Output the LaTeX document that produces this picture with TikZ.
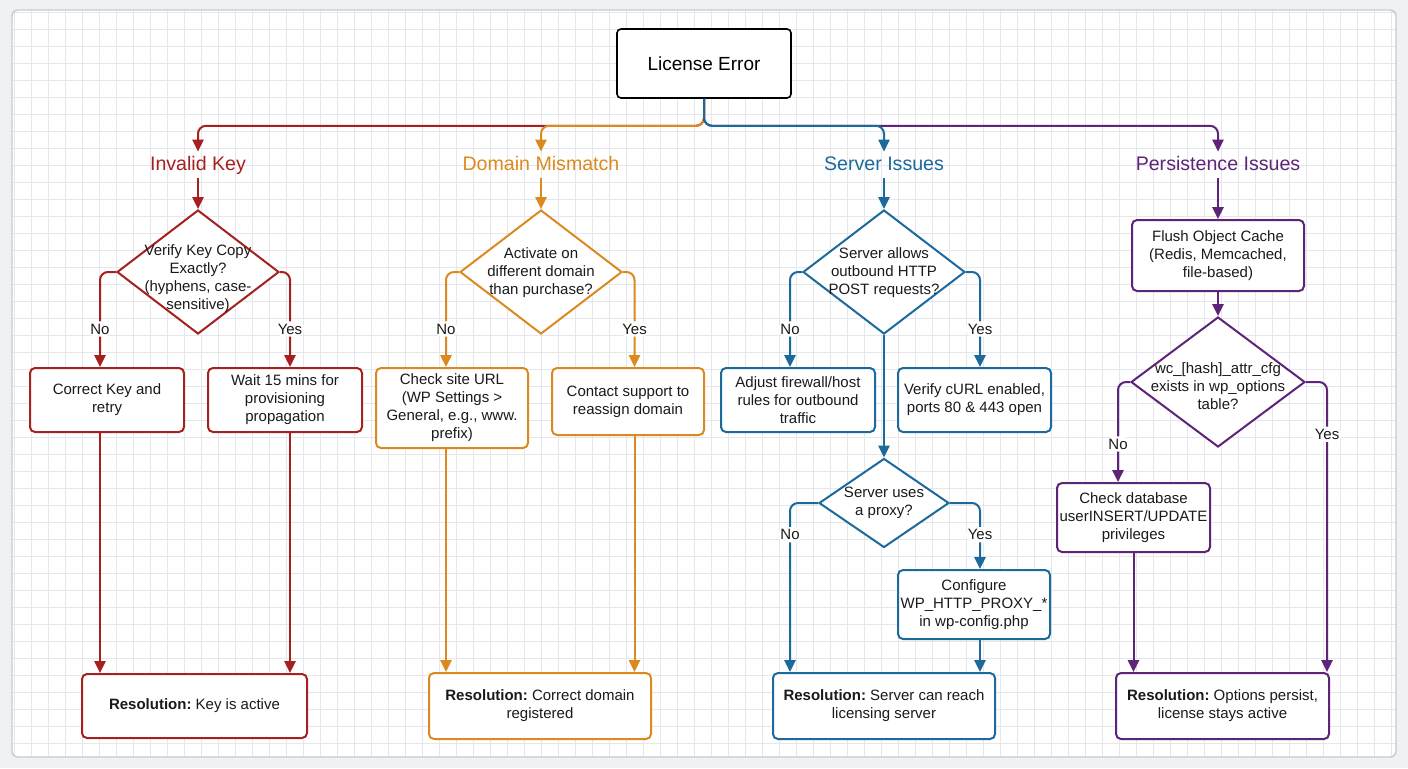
\documentclass[tikz,border=0pt]{standalone}
\usepackage{fontspec}
\setmainfont{Liberation Sans}
\usetikzlibrary{shapes.geometric, arrows.meta, positioning}
\definecolor{rojo}{HTML}{A6201F}
\definecolor{naranja}{HTML}{DC8A1F}
\definecolor{azul}{HTML}{1C699C}
\definecolor{morado}{HTML}{5D2478}
\definecolor{tinta}{HTML}{1A1A1A}
\definecolor{fondo}{HTML}{EEF2F5}
\definecolor{rejilla}{HTML}{E5E7EA}
\definecolor{marco}{HTML}{C6CBD1}
\tikzset{
  caja/.style={rectangle, rounded corners=2.5pt, line width=1pt, fill=white, text=tinta,
               inner sep=0pt, align=center, font=\fontsize{7.5}{9}\selectfont},
  inicio/.style={rectangle, rounded corners=2pt, line width=0.8pt, draw=black, fill=white,
                 minimum width=87pt, minimum height=34.5pt, font=\fontsize{9.5}{11}\selectfont},
  rombo/.style={diamond, line width=1pt, fill=white, inner sep=0pt},
  textorombo/.style={align=center, text=tinta, inner sep=0pt, font=\fontsize{7.5}{9}\selectfont},
  categoria/.style={font=\fontsize{9.8}{11}\selectfont, inner sep=0pt, minimum height=13pt,
                    text height=7.2pt, text depth=2pt},
  rotulo/.style={font=\fontsize{7.5}{9}\selectfont, text=tinta, fill=white, inner sep=1.2pt},
  flecha/.style={line width=1pt, rounded corners=4pt, -{Triangle[length=6pt,width=5.6pt]}}
}

\begin{document}
\begin{tikzpicture}[x=0.5pt,y=-0.5pt]
  % fondo, panel y cuadricula
  \fill[fondo] (0,0) rectangle (1408,768);
  \useasboundingbox (0,0) rectangle (1408,768);
  \begin{scope}
    \clip[rounded corners=3pt] (12,10) rectangle (1396,757);
    \fill[white] (12,10) rectangle (1396,757);
    \foreach \i in {0,...,81} \draw[rejilla, line width=0.5pt] (14.7+17*\i,10) -- (14.7+17*\i,757);
    \foreach \j in {0,...,44} \draw[rejilla, line width=0.5pt] (12,12.3+17*\j) -- (1396,12.3+17*\j);
  \end{scope}
  \draw[marco, line width=0.7pt, rounded corners=3pt] (12,10) rectangle (1396,757);

  % nodos
  \node (err) [inicio] at (704,63.5) {License Error};
  \node (catr) [categoria, text=rojo] at (198,165) {Invalid Key};
  \node (catn) [categoria, text=naranja] at (541,165) {Domain Mismatch};
  \node (cata) [categoria, text=azul] at (884,165) {Server Issues};
  \node (catm) [categoria, text=morado] at (1218,165) {Persistence Issues};

  \node (d1) [rombo, draw=rojo, minimum width=81pt, minimum height=62pt] at (198,272) {};
  \node (d1t) [textorombo] at ([yshift=-3.5pt]d1.center) {Verify Key Copy\\Exactly?\\(hyphens, case-\\sensitive)};
  \node (d2) [rombo, draw=naranja, minimum width=81pt, minimum height=62pt] at (541,272) {};
  \node (d2t) [textorombo] at ([yshift=-0.5pt]d2.center) {Activate on\\different domain\\than purchase?};
  \node (d3) [rombo, draw=azul, minimum width=81pt, minimum height=62pt] at (884,272) {};
  \node (d3t) [textorombo] at ([yshift=-0.5pt]d3.center) {Server allows\\outbound HTTP\\POST requests?};
  \node (d4) [rombo, draw=azul, minimum width=65pt, minimum height=44.5pt] at (884,503) {};
  \node (d4t) [textorombo] at (d4.center) {Server uses\\a proxy?};
  \node (d5) [rombo, draw=morado, minimum width=87pt, minimum height=65pt] at (1218,382) {};
  \node (d5t) [textorombo] at ([yshift=-2pt]d5.center) {wc\_[hash]\_attr\_cfg\\exists in wp\_options\\table?};

  \node (c1) [caja, draw=rojo, minimum width=77pt, minimum height=32pt] at (107,400) {Correct Key and\\retry};
  \node (c2) [caja, draw=rojo, minimum width=77pt, minimum height=32pt] at (285,400) {Wait 15 mins for\\provisioning\\propagation};
  \node (o1) [caja, draw=naranja, minimum width=76pt, minimum height=40pt] at (452,408) {Check site URL\\(WP Settings >\\General, e.g., www.\\prefix)};
  \node (o2) [caja, draw=naranja, minimum width=76pt, minimum height=33.5pt] at (628,401.5) {Contact support to\\reassign domain};
  \node (b1) [caja, draw=azul, minimum width=77pt, minimum height=32pt] at (798,400) {Adjust firewall/host\\rules for outbound\\traffic};
  \node (b2) [caja, draw=azul, minimum width=76.5pt, minimum height=32pt] at (974.5,400) {Verify cURL enabled,\\ports 80 \& 443 open};
  \node (b3) [caja, draw=azul, minimum width=76pt, minimum height=34.5pt] at (974,604.5) {Configure\\WP\_HTTP\_PROXY\_*\\in wp-config.php};
  \node (p1) [caja, draw=morado, minimum width=86pt, minimum height=35.5pt] at (1218,255.5) {Flush Object Cache\\(Redis, Memcached,\\file-based)};
  \node (p2) [caja, draw=morado, minimum width=76.5pt, minimum height=34.5pt] at (1133.5,517.5) {Check database\\userINSERT/UPDATE\\privileges};

  \node (r1) [caja, draw=rojo, minimum width=112.5pt, minimum height=32pt] at (194.5,706) {\textbf{Resolution:}~Key is active};
  \node (r2) [caja, draw=naranja, minimum width=111pt, minimum height=33pt] at (540,706) {\textbf{Resolution:}~Correct domain\\registered};
  \node (r3) [caja, draw=azul, minimum width=111pt, minimum height=33pt] at (884,706) {\textbf{Resolution:}~Server can reach\\licensing server};
  \node (r4) [caja, draw=morado, minimum width=106.5pt, minimum height=33pt] at (1222.5,706) {\textbf{Resolution:}~Options persist,\\license stays active};

  % ramas desde el error
  \draw[flecha, rojo] (err.south) -- ++(0,27) -| (catr.north);
  \draw[flecha, naranja] (err.south) -- ++(0,27) -| (catn.north);
  \draw[flecha, morado] (err.south) -- ++(0,27) -| (catm.north);
  \draw[flecha, azul] (err.south) -- ++(0,27) -| (cata.north);

  % invalid key
  \draw[flecha, rojo] (catr) -- (d1);
  \draw[flecha, rojo] (d1.west) -| ([xshift=-3.5pt]c1.north) node[rotulo, pos=0.8] {No};
  \draw[flecha, rojo] (d1.east) -| ([xshift=2.5pt]c2.north) node[rotulo, pos=0.8] {Yes};
  \draw[flecha, rojo] ([xshift=-3.5pt]c1.south) -- ([xshift=-3.5pt]c1.south |- r1.north);
  \draw[flecha, rojo] ([xshift=2.5pt]c2.south) -- ([xshift=2.5pt]c2.south |- r1.north);

  % domain mismatch
  \draw[flecha, naranja] (catn) -- (d2);
  \draw[flecha, naranja] (d2.west) -| ([xshift=-3pt]o1.north) node[rotulo, pos=0.8] {No};
  \draw[flecha, naranja] (d2.east) -| ([xshift=3.25pt]o2.north) node[rotulo, pos=0.8] {Yes};
  \draw[flecha, naranja] ([xshift=-3pt]o1.south) -- ([xshift=-3pt]o1.south |- r2.north);
  \draw[flecha, naranja] ([xshift=3.25pt]o2.south) -- ([xshift=3.25pt]o2.south |- r2.north);

  % server issues
  \draw[flecha, azul] (cata) -- (d3);
  \draw[flecha, azul] (d3.west) -| ([xshift=-4pt]b1.north) node[rotulo, pos=0.8] {No};
  \draw[flecha, azul] (d3.east) -| ([xshift=2.75pt]b2.north) node[rotulo, pos=0.8] {Yes};
  \draw[flecha, azul] (d3) -- (d4);
  \draw[flecha, azul] (d4.west) -| ([xshift=-4pt]b1.south |- r3.north) node[rotulo, pos=0.594] {No};
  \draw[flecha, azul] (d4.east) -| ([xshift=3pt]b3.north) node[rotulo, pos=0.74] {Yes};
  \draw[flecha, azul] ([xshift=3pt]b3.south) -- ([xshift=3pt]b3.south |- r3.north);

  % persistence issues
  \draw[flecha, morado] (catm) -- (p1);
  \draw[flecha, morado] (p1) -- (d5);
  \draw[flecha, morado] (d5.west) -| ([xshift=-7.75pt]p2.north) node[rotulo, pos=0.81] {No};
  \draw[flecha, morado] (d5.east) -| ([xshift=-1.5pt]r4.north east) node[rotulo, pos=0.59] {Yes};
  \draw[flecha, morado] (p2.south) -- (p2.south |- r4.north);
\end{tikzpicture}
\end{document}
